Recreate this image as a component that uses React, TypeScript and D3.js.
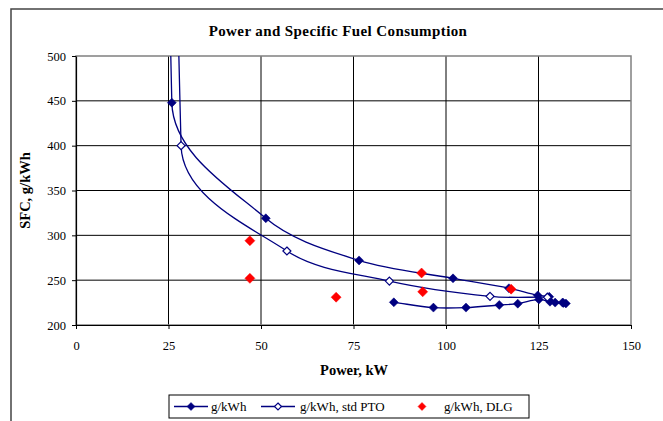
import React, { useEffect, useRef } from 'react';
import * as d3 from 'd3';

// g/kWh series (first point is the idle point, far above the axis range)
const sfcPower = [25.4, 25.9, 51.3, 76.5, 101.9, 117.0, 124.8, 127.9, 129.5, 131.7, 132.4, 131.5, 128.1, 125.1, 119.4, 114.4, 105.4, 96.6, 85.9];
const sfcValues = [5000, 448, 319, 272, 252, 241, 233, 231.5, 225, 224.5, 224, 225, 226, 228.5, 223.8, 222.3, 219.4, 219.4, 225.3];

// g/kWh, std PTO series
const ptoPower = [27.4, 28.4, 57.0, 84.7, 111.9, 127.4];
const ptoValues = [5000, 400, 282.5, 249, 232, 231];

// g/kWh, DLG points
const dlgPower = [47.0, 47.0, 70.3, 93.4, 93.7, 117.6];
const dlgValues = [294, 252, 231, 258, 237, 240];

const xTicks = [0, 25, 50, 75, 100, 125, 150];
const yTicks = [200, 250, 300, 350, 400, 450, 500];

const seriesNames = ['g/kWh', 'g/kWh, std PTO', 'g/kWh, DLG'];

const W = 663;
const H = 421;
const NAVY = '#000080';
const RED = '#FF0000';
const FONT = '"Liberation Serif", "Times New Roman", serif';

// Excel-like smoothed line: bezier segments, tangent from neighbours,
// handle length a third of the segment length
function smoothPath(pts: [number, number][]): string {
  const p = d3.path();
  const unit = (a: [number, number], b: [number, number]) => {
    const dx = b[0] - a[0], dy = b[1] - a[1];
    const l = Math.hypot(dx, dy) || 1;
    return [dx / l, dy / l];
  };
  p.moveTo(pts[0][0], pts[0][1]);
  for (let i = 0; i < pts.length - 1; i++) {
    const p0 = pts[i - 1] ?? pts[i];
    const p1 = pts[i];
    const p2 = pts[i + 1];
    const p3 = pts[i + 2] ?? pts[i + 1];
    const t1 = unit(p0, p2);
    const t2 = unit(p1, p3);
    const len = Math.hypot(p2[0] - p1[0], p2[1] - p1[1]) / 3;
    p.bezierCurveTo(
      p1[0] + t1[0] * len, p1[1] + t1[1] * len,
      p2[0] - t2[0] * len, p2[1] - t2[1] * len,
      p2[0], p2[1]
    );
  }
  return p.toString();
}

const App: React.FC = () => {
  const svgRef = useRef<SVGSVGElement>(null);

  useEffect(() => {
    if (!svgRef.current) return;
    const svg = d3.select(svgRef.current);
    svg.selectAll('*').remove();

    const left = 76, right = 631, top = 56, bottom = 325;
    const x = d3.scaleLinear().domain([0, 150]).range([left, right]);
    const y = d3.scaleLinear().domain([200, 500]).range([bottom, top]);

    // chart frame (only left & top edges are inside the picture)
    svg.append('path')
      .attr('d', `M11,${H + 5} L11,9 L${W + 5},9`)
      .attr('fill', 'none')
      .attr('stroke', '#444')
      .attr('stroke-width', 1.5);

    // title
    svg.append('text')
      .attr('x', 338).attr('y', 36)
      .attr('text-anchor', 'middle')
      .attr('font-family', FONT).attr('font-weight', 'bold').attr('font-size', 15)
      .attr('letter-spacing', 0.4)
      .text('Power and Specific Fuel Consumption');

    // gridlines
    const grid = svg.append('g');
    yTicks.filter(t => t > 200 && t < 500).forEach(t => {
      grid.append('line')
        .attr('x1', left).attr('x2', right).attr('y1', y(t)).attr('y2', y(t))
        .attr('stroke', '#000').attr('stroke-width', 1);
    });
    xTicks.filter(t => t > 0 && t < 150).forEach(t => {
      grid.append('line')
        .attr('x1', x(t)).attr('x2', x(t)).attr('y1', top).attr('y2', bottom)
        .attr('stroke', '#000').attr('stroke-width', 1);
    });
    // plot area border
    svg.append('rect')
      .attr('x', left).attr('y', top).attr('width', right - left).attr('height', bottom - top)
      .attr('fill', 'none').attr('stroke', '#808080').attr('stroke-width', 1.5);

    // axes
    const yAxis = svg.append('g').attr('transform', `translate(${left},0)`)
      .call(d3.axisLeft(y).tickValues(yTicks).tickSize(4).tickSizeOuter(0).tickPadding(6));
    const xAxis = svg.append('g').attr('transform', `translate(0,${bottom})`)
      .call(d3.axisBottom(x).tickValues(xTicks).tickSize(4).tickSizeOuter(0).tickPadding(12));
    [xAxis, yAxis].forEach(a => {
      a.select('.domain').attr('stroke', '#000').attr('stroke-width', 1.2);
      a.selectAll('.tick line').attr('stroke', '#000');
      a.selectAll('text').attr('font-family', FONT).attr('font-size', 12.5).attr('fill', '#000');
    });

    // axis titles
    svg.append('text')
      .attr('x', 354).attr('y', 375)
      .attr('text-anchor', 'middle')
      .attr('font-family', FONT).attr('font-weight', 'bold').attr('font-size', 14.5)
      .text('Power, kW');
    svg.append('text')
      .attr('transform', `translate(30,${(top + bottom) / 2}) rotate(-90)`)
      .attr('text-anchor', 'middle')
      .attr('font-family', FONT).attr('font-weight', 'bold').attr('font-size', 14.5)
      .text('SFC, g/kWh');

    // clip for the plot area
    svg.append('defs').append('clipPath').attr('id', 'plotClip')
      .append('rect').attr('x', left).attr('y', top).attr('width', right - left).attr('height', bottom - top);
    const plot = svg.append('g').attr('clip-path', 'url(#plotClip)');

    const toPx = (pw: number[], v: number[]): [number, number][] =>
      pw.map((p, i) => [x(p), y(v[i])]);

    const sfc = toPx(sfcPower, sfcValues);
    const pto = toPx(ptoPower, ptoValues);
    const dlg = toPx(dlgPower, dlgValues);

    const diamond = (cx: number, cy: number, r: number) =>
      `M${cx},${cy - r} L${cx + r},${cy} L${cx},${cy + r} L${cx - r},${cy} Z`;

    plot.append('path').attr('d', smoothPath(sfc))
      .attr('fill', 'none').attr('stroke', NAVY).attr('stroke-width', 1.3);
    plot.append('path').attr('d', smoothPath(pto))
      .attr('fill', 'none').attr('stroke', NAVY).attr('stroke-width', 1.3);

    plot.selectAll('.m1').data(sfc).enter().append('path')
      .attr('d', d => diamond(d[0], d[1], 4.5))
      .attr('fill', NAVY).attr('stroke', NAVY).attr('stroke-width', 0.5);
    plot.selectAll('.m2').data(pto).enter().append('path')
      .attr('d', d => diamond(d[0], d[1], 4))
      .attr('fill', '#fff').attr('stroke', NAVY).attr('stroke-width', 1.2);
    plot.selectAll('.m3').data(dlg).enter().append('path')
      .attr('d', d => diamond(d[0], d[1], 5))
      .attr('fill', RED).attr('stroke', RED).attr('stroke-width', 0.5);

    // legend
    const lg = svg.append('g');
    lg.append('rect')
      .attr('x', 169).attr('y', 395).attr('width', 360).attr('height', 23)
      .attr('fill', '#fff').attr('stroke', '#000').attr('stroke-width', 1);
    const ly = 406.5;
    const items = [
      { lx: 174, tx: 211, kind: 'filled' },
      { lx: 261, tx: 300, kind: 'open' },
      { lx: 405, tx: 444, kind: 'dot' },
    ];
    items.forEach((it, i) => {
      if (it.kind !== 'dot') {
        lg.append('line').attr('x1', it.lx).attr('x2', it.lx + 34).attr('y1', ly).attr('y2', ly)
          .attr('stroke', NAVY).attr('stroke-width', 1.3);
      }
      const cx = it.lx + 17;
      lg.append('path').attr('d', diamond(cx, ly, it.kind === 'open' ? 3.5 : 4))
        .attr('fill', it.kind === 'filled' ? NAVY : it.kind === 'open' ? '#fff' : RED)
        .attr('stroke', it.kind === 'dot' ? RED : NAVY)
        .attr('stroke-width', it.kind === 'open' ? 1.2 : 0.5);
      lg.append('text').attr('x', it.tx).attr('y', ly + 4.5)
        .attr('font-family', FONT).attr('font-size', 13)
        .text(seriesNames[i]);
    });
  }, []);

  return (
    <svg ref={svgRef} width={W} height={H}
      style={{ position: 'absolute', left: 0, top: 0, background: '#fff' }} />
  );
};

export default App;
